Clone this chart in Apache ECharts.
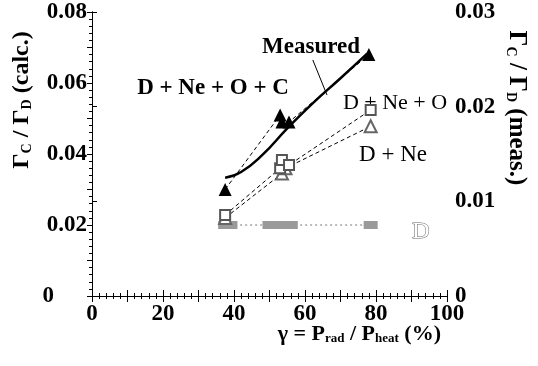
<!DOCTYPE html>
<html>
<head>
<meta charset="utf-8">
<script src="https://cdn.jsdelivr.net/npm/echarts@6/dist/echarts.min.js"></script>
<style>
  html, body { margin: 0; padding: 0; background: #fff; }
  #chart { width: 538px; height: 366px; }
</style>
</head>
<body>
<div id="chart"></div>
<script>
// D + Ne + O + C (calc.)
const gammaC = [37.5, 53, 53.5, 55.5, 78];
const ratioC = [0.030, 0.051, 0.049, 0.049, 0.068];
// D + Ne + O (calc.)
const gammaO = [37.5, 53, 53.5, 55.5, 78.5];
const ratioO = [0.0228, 0.036, 0.0383, 0.0369, 0.0524];
// D + Ne (calc.)
const gammaNe = [37.5, 53.5, 54.5, 78.5];
const ratioNe = [0.022, 0.0345, 0.036, 0.0478];
// D (calc.)
const gammaD = [37.5, 39, 50, 53, 56, 78.5];
const ratioD = [0.020, 0.020, 0.020, 0.020, 0.020, 0.020];
// Measured (right axis)
const gammaM = [37.5, 42, 48, 55, 62, 70, 77.5];
const ratioM = [0.0125, 0.0131, 0.0149, 0.0177, 0.0203, 0.0230, 0.0256];
// leader line from the "Measured" label
const gammaLead = [62.2, 66.2];
const ratioLead = [0.0665, 0.0566];

const xTicks = [0, 20, 40, 60, 80, 100];
const leftTicks = ['0', '0.02', '0.04', '0.06', '0.08'];
const rightTicks = ['0', '0.01', '0.02', '0.03'];

const serif = "'Liberation Serif', 'DejaVu Serif', serif";
const pair = (xs, ys) => xs.map((x, i) => [x, ys[i]]);

const chart = echarts.init(document.getElementById('chart'));

const tickFont = { color: '#000', fontFamily: serif, fontWeight: 'bold', fontSize: 23 };
const lineBlack = { lineStyle: { color: '#000', width: 1 } };

const titleRich = (big, small) => ({
  g: { fontFamily: serif, fontWeight: 'bold', fontSize: big, fill: '#000', lineHeight: 28, verticalAlign: 'bottom' },
  s: { fontFamily: serif, fontWeight: 'bold', fontSize: small, fill: '#000', lineHeight: 19, verticalAlign: 'bottom' }
});

const option = {
  animation: false,
  backgroundColor: '#fff',
  grid: { left: 92, right: 91, top: 12, bottom: 70 },
  xAxis: [
    {
      type: 'value', min: 0, max: 100, interval: 10,
      axisLine: lineBlack,
      axisTick: { show: true, length: 6, lineStyle: { color: '#000' } },
      minorTick: { show: true, splitNumber: 5, length: 3, lineStyle: { color: '#000' } },
      splitLine: { show: false },
      axisLabel: Object.assign({}, tickFont, {
        margin: 7,
        formatter: v => xTicks.includes(v) ? String(v) : ''
      })
    },
    {
      type: 'value', min: 0, max: 100, interval: 10, position: 'top',
      axisLine: lineBlack,
      axisTick: { show: true, length: 6, lineStyle: { color: '#000' } },
      minorTick: { show: true, splitNumber: 5, length: 3, lineStyle: { color: '#000' } },
      splitLine: { show: false },
      axisLabel: { show: false }
    }
  ],
  yAxis: [
    {
      type: 'value', min: 0, max: 0.08, interval: 0.01,
      axisLine: { show: true, lineStyle: { color: '#000', width: 1 } },
      axisTick: { show: true, length: 5, lineStyle: { color: '#000' } },
      minorTick: { show: true, splitNumber: 5, length: 3, lineStyle: { color: '#000' } },
      splitLine: { show: false },
      axisLabel: Object.assign({}, tickFont, {
        margin: 5,
        formatter: v => {
          const s = v === 0 ? '0' : v.toFixed(2);
          if (!leftTicks.includes(s)) return '';
          return s === '0' ? '{z|0}' : s;
        },
        rich: { z: { fontFamily: serif, fontWeight: 'bold', fontSize: 23, padding: [0, 33, 0, 0] } }
      })
    },
    {
      type: 'value', min: 0, max: 0.03, interval: 0.01, position: 'right',
      axisLine: { show: true, lineStyle: { color: '#000', width: 1 } },
      axisTick: { show: true, length: 5, lineStyle: { color: '#000' } },
      splitLine: { show: false },
      axisLabel: Object.assign({}, tickFont, {
        margin: 8,
        formatter: v => {
          const s = v === 0 ? '0' : v.toFixed(2);
          return rightTicks.includes(s) ? s : '';
        }
      })
    }
  ],
  series: [
    {
      name: 'D', type: 'line', data: pair(gammaD, ratioD),
      symbol: 'rect', symbolSize: [14, 8],
      itemStyle: { color: '#9a9a9a' },
      lineStyle: { color: '#777', width: 1, type: [2, 3] }
    },
    {
      name: 'D + Ne', type: 'line', data: pair(gammaNe, ratioNe),
      symbol: 'emptyTriangle', symbolSize: 12,
      itemStyle: { color: '#666', borderWidth: 1.2 },
      lineStyle: { color: '#000', width: 1, type: [4, 3] }
    },
    {
      name: 'D + Ne + O', type: 'line', data: pair(gammaO, ratioO),
      symbol: 'emptyRect', symbolSize: 10,
      itemStyle: { color: '#555', borderWidth: 1.2 },
      lineStyle: { color: '#000', width: 1, type: [4, 3] }
    },
    {
      name: 'D + Ne + O + C', type: 'line', data: pair(gammaC, ratioC),
      symbol: 'triangle', symbolSize: 13,
      itemStyle: { color: '#000' },
      lineStyle: { color: '#000', width: 1, type: [4, 3] }
    },
    {
      name: 'Measured', type: 'line', yAxisIndex: 1, data: pair(gammaM, ratioM),
      smooth: true, showSymbol: false, symbol: 'none',
      lineStyle: { color: '#000', width: 2.5 }
    },
    {
      name: 'lead', type: 'line', data: pair(gammaLead, ratioLead),
      symbol: 'none', lineStyle: { color: '#000', width: 1 }
    }
  ],
  graphic: [
    {
      type: 'text', x: 311, y: 47,
      style: { text: 'Measured', fill: '#000', font: 'bold 23px ' + serif, textAlign: 'center', textVerticalAlign: 'middle' }
    },
    {
      type: 'text', x: 213, y: 88,
      style: { text: 'D + Ne + O + C', fill: '#000', font: 'bold 23px ' + serif, textAlign: 'center', textVerticalAlign: 'middle' }
    },
    {
      type: 'text', x: 395, y: 103,
      style: { text: 'D + Ne + O', fill: '#000', font: '22px ' + serif, textAlign: 'center', textVerticalAlign: 'middle' }
    },
    {
      type: 'text', x: 393, y: 155,
      style: { text: 'D + Ne', fill: '#000', font: '23px ' + serif, textAlign: 'center', textVerticalAlign: 'middle' }
    },
    {
      type: 'text', x: 421, y: 232,
      style: { text: 'D', fill: '#fff', stroke: '#666', lineWidth: 1, font: '24px ' + serif, textAlign: 'center', textVerticalAlign: 'middle' }
    },
    {
      type: 'text', x: 20, y: 100, rotation: Math.PI / 2,
      style: {
        text: '{g|Γ}{s|C}{g| / Γ}{s|D}{g| (calc.)}',
        textAlign: 'center', textVerticalAlign: 'middle',
        rich: titleRich(24, 14)
      }
    },
    {
      type: 'text', x: 518, y: 108, rotation: -Math.PI / 2,
      style: {
        text: '{g|Γ}{s|C}{g| / Γ}{s|D}{g| (meas.)}',
        textAlign: 'center', textVerticalAlign: 'middle',
        rich: titleRich(25, 14)
      }
    },
    {
      type: 'text', x: 441, y: 331,
      style: {
        text: '{g|γ = P}{s|rad}{g| / P}{s|heat}{g| (%)}',
        textAlign: 'right', textVerticalAlign: 'middle',
        rich: titleRich(22, 13)
      }
    }
  ]
};

chart.setOption(option);
window.addEventListener('resize', () => chart.resize());
</script>
</body>
</html>
